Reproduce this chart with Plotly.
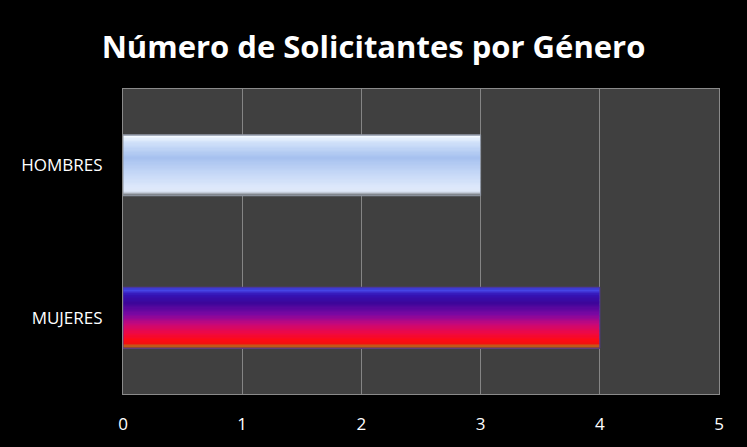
import plotly.graph_objects as go

# ---- data ----
categories = ["MUJERES", "HOMBRES"]
values = [4, 3]
x_ticks = [0, 1, 2, 3, 4, 5]
title_text = "Número de Solicitantes por Género"

# ---- gradient styling (top -> bottom of each bar) ----
grad_hombres = [(0.0, "#8d97aa"), (0.03, "#f4faff"), (0.12, "#d3e3fa"), (0.38, "#a6c1ef"),
                (0.62, "#c3d6f6"), (0.86, "#dde8fb"), (0.93, "#dfe8f8"), (0.97, "#a3a9b3"), (1.0, "#6f7378")]
grad_mujeres = [(0.0, "#2a2ab0"), (0.05, "#4646e6"), (0.13, "#3412b4"), (0.26, "#3c069a"),
                (0.45, "#7c08a2"), (0.6, "#c4087c"), (0.75, "#ee0846"), (0.87, "#ff0a16"),
                (0.93, "#f2100f"), (0.965, "#c85a18"), (1.0, "#8a4a1c")]


def hex2rgb(h):
    h = h.lstrip("#")
    return tuple(int(h[i:i + 2], 16) for i in (0, 2, 4))


def interp(stops, t):
    for (t0, c0), (t1, c1) in zip(stops[:-1], stops[1:]):
        if t0 <= t <= t1:
            f = 0 if t1 == t0 else (t - t0) / (t1 - t0)
            a, b = hex2rgb(c0), hex2rgb(c1)
            return "rgb(%d,%d,%d)" % tuple(round(a[k] + (b[k] - a[k]) * f) for k in range(3))
    return stops[-1][1]


bar_width = 0.4
n_slices = 48
slice_w = bar_width / n_slices

fig = go.Figure()
for i in range(n_slices):
    t = (i + 0.5) / n_slices
    fig.add_trace(go.Bar(
        x=values, y=categories, orientation="h",
        width=slice_w * 1.08, offset=bar_width / 2 - (i + 1) * slice_w,
        marker=dict(color=[interp(grad_mujeres, t), interp(grad_hombres, t)], line=dict(width=0)),
        showlegend=False, hoverinfo="skip",
    ))

# thin outline over each bar
fig.add_trace(go.Bar(
    x=values, y=categories, orientation="h", width=bar_width,
    marker=dict(color="rgba(0,0,0,0)", line=dict(color=["#50389a", "#8c93a0"], width=1)),
    showlegend=False, hovertemplate="%{y}: %{x}<extra></extra>",
))

fig.update_layout(
    width=747, height=447,
    paper_bgcolor="#000000", plot_bgcolor="#404040",
    margin=dict(l=123, r=28, t=89, b=50),
    barmode="overlay",
    title=dict(text=title_text, x=0.5, xanchor="center", y=1 - 47 / 447, yanchor="middle",
               yref="container",
               font=dict(family="Open Sans", size=31, color="#ffffff", weight="bold")),
    font=dict(family="Open Sans", color="#ffffff"),
)
fig.update_xaxes(range=[0, 5], tickvals=x_ticks, ticktext=[str(v) for v in x_ticks],
                 showgrid=True, gridcolor="#858585", gridwidth=1, zeroline=False,
                 showline=True, linecolor="#8a8a8a", linewidth=1, mirror=True,
                 ticks="", ticklabelstandoff=15, tickfont=dict(size=17, color="#ffffff"))
fig.update_yaxes(categoryorder="array", categoryarray=categories,
                 showgrid=False, zeroline=False, showline=True, linecolor="#8a8a8a",
                 linewidth=1, mirror=True, ticks="", ticklabelstandoff=16,
                 tickfont=dict(size=17, color="#ffffff"))

fig.write_html("out.html", config={"displayModeBar": False},
               post_script="document.body.style.margin='0';document.body.style.background='#000';")
